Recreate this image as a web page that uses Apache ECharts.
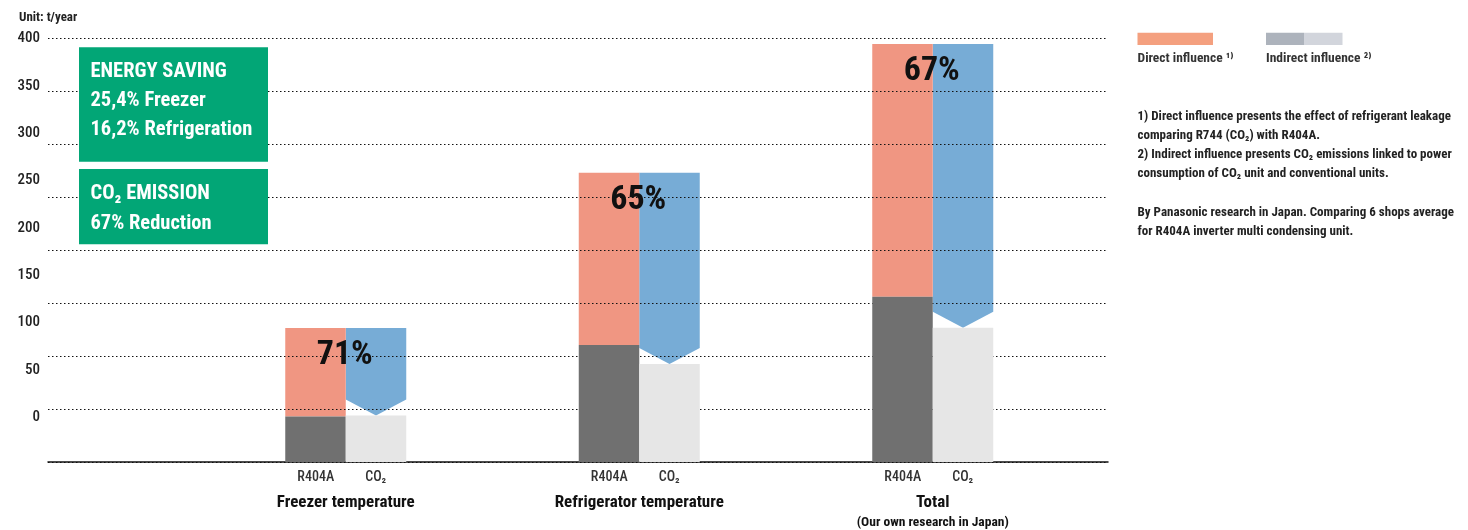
<!DOCTYPE html>
<html>
<head>
<meta charset="utf-8">
<script src="https://cdn.jsdelivr.net/npm/echarts@6/dist/echarts.min.js"></script>
<style>
  html, body { margin: 0; padding: 0; background: #fff; }
  #chart { width: 1468px; height: 530px; }
</style>
</head>
<body>
<div id="chart"></div>
<script>
// ---- data ----
const groups = ['Freezer temperature', 'Refrigerator temperature', 'Total'];
const groupNotes = ['', '', '(Our own research in Japan)'];
const barNames = ['R404A', 'CO\u2082'];
const r404aIndirect = [43, 110.5, 156];
const r404aDirect = [83.5, 162.7, 238.8];
const co2Indirect = [44, 92.6, 126.8];
const reductionLabels = ['71%', '65%', '67%'];
const yTicks = [0, 50, 100, 150, 200, 250, 300, 350, 400];

// ---- style ----
const FONT = "Roboto, 'Roboto Condensed', 'Open Sans', sans-serif";
const W_BOLD = 'bold condensed';
const W_MED = '500 condensed';
const C_RED = '#f09682';
const C_DARK = '#707070';
const C_LIGHT = '#e6e6e6';
const C_BLUE = '#77acd6';
const C_GREEN = '#02a676';
const BAR_W = 60.5;
const NOTCH = 16;

const arrowData = groups.map((g, i) => [i, r404aIndirect[i] + r404aDirect[i], co2Indirect[i]]);

const chart = echarts.init(document.getElementById('chart'));

const noteLines = [
  '1) Direct influence presents the effect of refrigerant leakage',
  'comparing R744 (CO\u2082) with R404A.',
  '2) Indirect influence presents CO\u2082 emissions linked to power',
  'consumption of CO\u2082 unit and conventional units.',
  '',
  'By Panasonic research in Japan. Comparing 6 shops average',
  'for R404A inverter multi condensing unit.'
];

const option = {
  animation: false,
  backgroundColor: '#fff',
  textStyle: { fontFamily: FONT },
  grid: [
    { left: 48, right: 360, top: 38.5, bottom: 68 },
    { left: 199, width: 880.5, top: 38.5, bottom: 68 }
  ],
  xAxis: [
    { gridIndex: 0, type: 'value', min: 0, max: 1, z: 4,
      axisLine: { show: true, onZero: false, lineStyle: { color: '#111', width: 1.5 } },
      axisTick: { show: false }, axisLabel: { show: false }, splitLine: { show: false } },
    { gridIndex: 1, type: 'category', data: groups,
      axisLine: { show: false }, axisTick: { show: false },
      axisLabel: {
        interval: 0, margin: 6, color: '#222', fontFamily: FONT,
        formatter: function (v, idx) {
          let s = '{r|' + barNames[0] + '}{c|' + barNames[1] + '}\n{t|' + v + '}';
          if (groupNotes[idx]) s += '\n{n|' + groupNotes[idx] + '}';
          return s;
        },
        rich: {
          r: { width: 60, align: 'center', fontSize: 14, fontWeight: W_MED, lineHeight: 18, color: '#333', fontFamily: FONT },
          c: { width: 60, align: 'center', fontSize: 14, fontWeight: W_MED, lineHeight: 18, color: '#333', fontFamily: FONT },
          t: { fontSize: 17, fontWeight: 'bold semi-condensed', lineHeight: 34, color: '#111', fontFamily: FONT },
          n: { fontSize: 13.5, fontWeight: W_BOLD, lineHeight: 6, color: '#111', fontFamily: FONT }
        }
      }
    }
  ],
  yAxis: [
    { gridIndex: 0, type: 'value', min: 0, max: 400, interval: 50, z: 3,
      axisLine: { show: false }, axisTick: { show: false }, axisLabel: { show: false },
      splitLine: { show: true, lineStyle: { color: '#111', width: 1, type: [1.5, 2.5] } } },
    { gridIndex: 0, type: 'value', position: 'left', min: -47, max: 400,
      axisLine: { show: false }, axisTick: { show: false }, splitLine: { show: false },
      axisLabel: { customValues: yTicks, margin: 8, color: '#222', fontSize: 15,
        fontWeight: W_MED, fontFamily: FONT } },
    { gridIndex: 1, type: 'value', min: 0, max: 400, show: false }
  ],
  series: [
    { name: 'R404A indirect', type: 'bar', xAxisIndex: 1, yAxisIndex: 2, stack: 'r',
      barWidth: BAR_W, barGap: '0%', z: 5, data: r404aIndirect,
      itemStyle: { color: C_DARK } },
    { name: 'R404A direct', type: 'bar', xAxisIndex: 1, yAxisIndex: 2, stack: 'r',
      barWidth: BAR_W, barGap: '0%', z: 1, data: r404aDirect,
      itemStyle: { color: C_RED } },
    { name: 'CO2 indirect', type: 'bar', xAxisIndex: 1, yAxisIndex: 2, stack: 'c',
      barWidth: BAR_W, barGap: '0%', z: 5, data: co2Indirect,
      itemStyle: { color: C_LIGHT } },
    { name: 'Reduction', type: 'custom', xAxisIndex: 1, yAxisIndex: 2, z: 1,
      data: arrowData,
      renderItem: function (params, api) {
        const i = api.value(0);
        const top = api.coord([i, api.value(1)]);
        const tip = api.coord([i, api.value(2)]);
        const x0 = top[0], x1 = top[0] + BAR_W, xc = (x0 + x1) / 2;
        return {
          type: 'polygon',
          shape: { points: [[x0, top[1]], [x1, top[1]], [x1, tip[1] - NOTCH], [xc, tip[1]], [x0, tip[1] - NOTCH]] },
          style: { fill: C_BLUE }
        };
      }
    },
    { name: 'Reduction label', type: 'custom', xAxisIndex: 1, yAxisIndex: 2, z: 8,
      data: arrowData,
      renderItem: function (params, api) {
        const i = api.value(0);
        const top = api.coord([i, api.value(1)]);
        return {
          type: 'text', x: top[0] - 1, y: top[1] + 27.5,
          style: { text: reductionLabels[i], fill: '#111', fontSize: 34, fontWeight: W_BOLD,
            fontFamily: FONT, align: 'center', verticalAlign: 'middle' }
        };
      }
    }
  ],
  graphic: [
    { type: 'text', x: 19, y: 17.5, style: { text: 'Unit: t/year', fill: '#222', fontSize: 13, fontWeight: W_BOLD, fontFamily: FONT, verticalAlign: 'middle' } },
    { type: 'rect', shape: { x: 79, y: 47.3, width: 189, height: 114.4 }, style: { fill: C_GREEN }, z: 10 },
    { type: 'text', x: 90.5, y: 57.5, z: 11,
      style: { text: 'ENERGY SAVING\n25,4% Freezer\n16,2% Refrigeration', fill: '#fff', fontSize: 20.5, fontWeight: W_BOLD,
        fontFamily: FONT, lineHeight: 29 } },
    { type: 'rect', shape: { x: 79, y: 169, width: 189, height: 75.3 }, style: { fill: C_GREEN }, z: 10 },
    { type: 'text', x: 90.5, y: 179, z: 11,
      style: { text: 'CO\u2082 EMISSION\n67% Reduction', fill: '#fff', fontSize: 20.5, fontWeight: W_BOLD,
        fontFamily: FONT, lineHeight: 30 } },
    // legend
    { type: 'rect', shape: { x: 1137.5, y: 32.7, width: 75.5, height: 12.3 }, style: { fill: '#f4a07f' } },
    { type: 'rect', shape: { x: 1266, y: 32.7, width: 38, height: 12.3 }, style: { fill: '#adb3bc' } },
    { type: 'rect', shape: { x: 1304, y: 32.7, width: 38.5, height: 12.3 }, style: { fill: '#d2d5dc' } },
    { type: 'text', x: 1137.5, y: 58.5, style: { text: 'Direct influence \u00b9\u207e', fill: '#333', fontSize: 13.5, fontWeight: W_BOLD, fontFamily: FONT, verticalAlign: 'middle' } },
    { type: 'text', x: 1266, y: 58.5, style: { text: 'Indirect influence \u00b2\u207e', fill: '#333', fontSize: 13.5, fontWeight: W_BOLD, fontFamily: FONT, verticalAlign: 'middle' } },
    { type: 'text', x: 1137.5, y: 107, style: { text: noteLines.join('\n'), fill: '#222', fontSize: 13, fontWeight: W_BOLD, fontFamily: FONT, lineHeight: 19.2 } }
  ]
};

chart.setOption(option);
</script>
</body>
</html>
